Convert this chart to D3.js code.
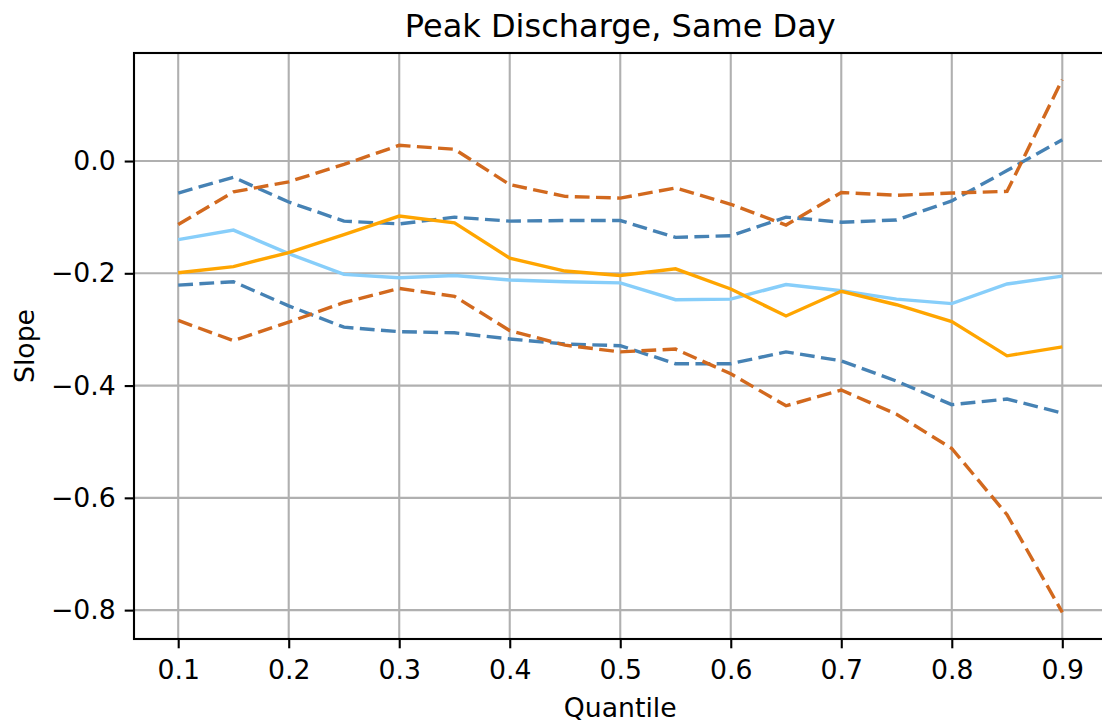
<!DOCTYPE html>
<html>
<head>
<meta charset="utf-8">
<script src="https://d3js.org/d3.v7.min.js"></script>
<style>
    body { margin: 0; background: #fff; }
    svg { display: block; font-family: "DejaVu Sans", sans-serif; }
</style>
</head>
<body>
<svg id="drawing_region"></svg>
<script>
const quantiles = [0.1, 0.15, 0.2, 0.25, 0.3, 0.35, 0.4, 0.45, 0.5, 0.55, 0.6, 0.65, 0.7, 0.75, 0.8, 0.85, 0.9];

const blueSlope = [-0.140, -0.123, -0.165, -0.202, -0.208, -0.204, -0.212, -0.215, -0.217, -0.247, -0.246, -0.220, -0.231, -0.246, -0.254, -0.219, -0.205];
const blueUpper = [-0.057, -0.029, -0.073, -0.107, -0.112, -0.100, -0.107, -0.106, -0.106, -0.136, -0.133, -0.100, -0.109, -0.105, -0.071, -0.017, 0.038];
const blueLower = [-0.221, -0.215, -0.258, -0.296, -0.304, -0.306, -0.317, -0.326, -0.329, -0.361, -0.361, -0.340, -0.356, -0.392, -0.434, -0.424, -0.449];

const orangeSlope = [-0.199, -0.188, -0.163, -0.131, -0.098, -0.110, -0.173, -0.196, -0.204, -0.192, -0.228, -0.276, -0.232, -0.256, -0.286, -0.347, -0.331];
const orangeUpper = [-0.113, -0.055, -0.037, -0.006, 0.028, 0.021, -0.042, -0.063, -0.066, -0.048, -0.077, -0.114, -0.056, -0.061, -0.057, -0.054, 0.145];
const orangeLower = [-0.284, -0.320, -0.287, -0.252, -0.227, -0.241, -0.302, -0.328, -0.340, -0.335, -0.379, -0.436, -0.408, -0.451, -0.512, -0.630, -0.804];

const xTicks = [0.1, 0.2, 0.3, 0.4, 0.5, 0.6, 0.7, 0.8, 0.9];
const yTicks = [-0.8, -0.6, -0.4, -0.2, 0.0];

const series = [
    { values: blueUpper, color: '#4682b4', dashed: true },
    { values: blueLower, color: '#4682b4', dashed: true },
    { values: orangeUpper, color: '#d2691e', dashed: true },
    { values: orangeLower, color: '#d2691e', dashed: true },
    { values: blueSlope, color: '#87cefa', dashed: false },
    { values: orangeSlope, color: '#ffa500', dashed: false },
];

const config = {
    width: 1102,
    height: 723,
    margin: { top: 53, right: -4.5, bottom: 84, left: 134 },
};

const inner_width = config.width - config.margin.left - config.margin.right;
const inner_height = config.height - config.margin.top - config.margin.bottom;

const svg = d3.select('#drawing_region')
    .attr('width', config.width)
    .attr('height', config.height);

const chart = svg.append('g')
    .attr('transform', `translate(${config.margin.left}, ${config.margin.top})`);

// matplotlib-like 5% margins
const xext = d3.extent(quantiles);
const xpad = (xext[1] - xext[0]) * 0.05;
const allY = series.flatMap(s => s.values);
const yext = d3.extent(allY);
const ypad = (yext[1] - yext[0]) * 0.05;

const xscale = d3.scaleLinear()
    .domain([xext[0] - xpad, xext[1] + xpad])
    .range([0, inner_width]);

const yscale = d3.scaleLinear()
    .domain([yext[0] - ypad, yext[1] + ypad])
    .range([inner_height, 0]);

const fmt = v => d3.format('.1f')(v).replace('-', '\u2212');

// grid
chart.append('g')
    .selectAll('line.vgrid')
    .data(xTicks)
    .join('line')
    .attr('x1', d => xscale(d)).attr('x2', d => xscale(d))
    .attr('y1', 0).attr('y2', inner_height)
    .attr('stroke', '#b0b0b0')
    .attr('stroke-width', 2.1);

chart.append('g')
    .selectAll('line.hgrid')
    .data(yTicks)
    .join('line')
    .attr('x1', 0).attr('x2', inner_width)
    .attr('y1', d => yscale(d)).attr('y2', d => yscale(d))
    .attr('stroke', '#b0b0b0')
    .attr('stroke-width', 2.1);

// lines
const line = d3.line()
    .x((d, i) => xscale(quantiles[i]))
    .y(d => yscale(d));

chart.append('g')
    .selectAll('path')
    .data(series)
    .join('path')
    .attr('d', d => line(d.values))
    .attr('fill', 'none')
    .attr('stroke', d => d.color)
    .attr('stroke-width', 3.4)
    .attr('stroke-dasharray', d => d.dashed ? '14.8,6.4' : null);

// axes
const xaxis = d3.axisBottom(xscale)
    .tickValues(xTicks)
    .tickFormat(fmt)
    .tickSize(9.3)
    .tickPadding(12)
    .tickSizeOuter(0);

const yaxis = d3.axisLeft(yscale)
    .tickValues(yTicks)
    .tickFormat(fmt)
    .tickSize(9.3)
    .tickPadding(9)
    .tickSizeOuter(0);

const gx = chart.append('g')
    .attr('transform', `translate(0, ${inner_height})`)
    .call(xaxis);

const gy = chart.append('g')
    .call(yaxis);

[gx, gy].forEach(g => {
    g.selectAll('.domain').remove();
    g.selectAll('.tick line').attr('stroke', '#000').attr('stroke-width', 2.1);
    g.selectAll('.tick text')
        .attr('fill', '#000')
        .attr('font-size', 26.7)
        .attr('font-family', '"DejaVu Sans", sans-serif');
});

// spines
chart.append('rect')
    .attr('x', 0).attr('y', 0)
    .attr('width', inner_width).attr('height', inner_height)
    .attr('fill', 'none')
    .attr('stroke', '#000')
    .attr('stroke-width', 2.1);

// labels
svg.append('text')
    .attr('x', config.margin.left + inner_width / 2)
    .attr('y', 37)
    .attr('text-anchor', 'middle')
    .attr('font-size', 32)
    .text('Peak Discharge, Same Day');

svg.append('text')
    .attr('x', config.margin.left + inner_width / 2)
    .attr('y', 717)
    .attr('text-anchor', 'middle')
    .attr('font-size', 26.7)
    .text('Quantile');

svg.append('text')
    .attr('transform', `translate(34, ${config.margin.top + inner_height / 2}) rotate(-90)`)
    .attr('text-anchor', 'middle')
    .attr('font-size', 26.7)
    .text('Slope');
</script>
</body>
</html>
